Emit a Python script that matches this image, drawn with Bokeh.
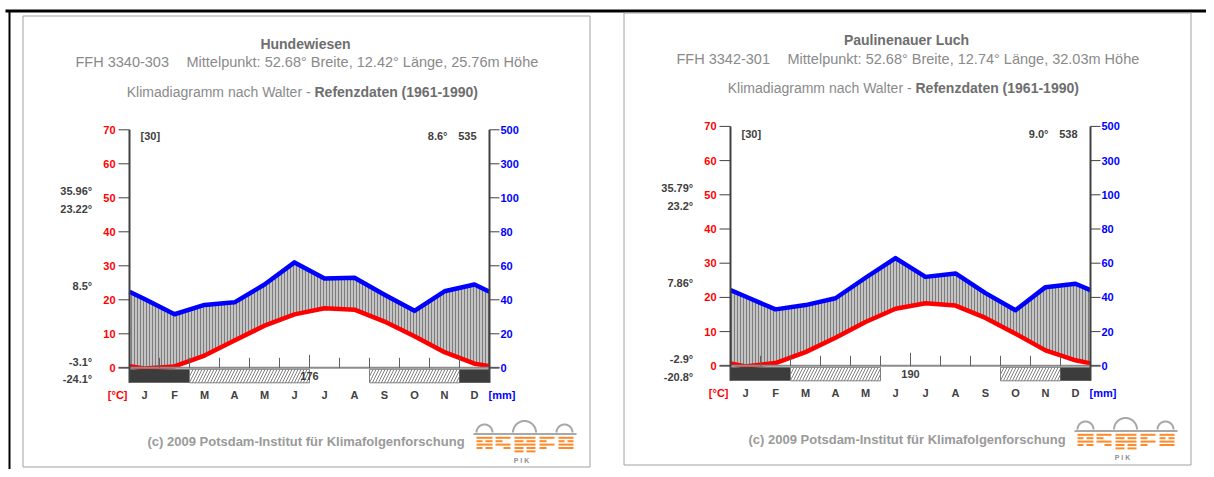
import numpy as np
from bokeh.plotting import figure
from bokeh.models import Range1d
from bokeh.embed import file_html
from bokeh.resources import INLINE
from bokeh.core.properties import value

# ---------------- data ----------------
months = ["J", "F", "M", "A", "M", "J", "J", "A", "S", "O", "N", "D"]
temp_ticks = [0, 10, 20, 30, 40, 50, 60, 70]
prec_ticks = [0, 20, 40, 60, 80, 100, 300, 500]

name1 = "Hundewiesen"
ffh1 = "FFH 3340-303"
meta1 = "Mittelpunkt: 52.68° Breite, 12.42° Länge, 25.76m Höhe"
temp1 = [-0.2, 0.4, 3.6, 8.0, 12.4, 15.7, 17.5, 17.1, 13.6, 9.3, 4.6, 1.2]
prec1 = [40.5, 31.5, 37, 38.5, 49, 62, 52.5, 53, 43, 33.5, 45, 49]
frost1 = ["frost", "frost", "hatch", "hatch", "hatch", "hatch", "", "", "hatch", "hatch", "hatch", "frost"]
side1 = ["35.96°", "23.22°", "8.5°", "-3.1°", "-24.1°"]
years1, mean1, annual1, free1 = "[30]", "8.6°", "535", "176"

name2 = "Paulinenauer Luch"
ffh2 = "FFH 3342-301"
meta2 = "Mittelpunkt: 52.68° Breite, 12.74° Länge, 32.03m Höhe"
temp2 = [-0.2, 0.8, 4.0, 8.2, 12.8, 16.7, 18.3, 17.6, 14.0, 9.4, 4.5, 1.6]
prec2 = [40.5, 33, 35.5, 39.5, 51.5, 63, 52, 54, 42.5, 32.5, 46, 48]
frost2 = ["frost", "frost", "hatch", "hatch", "hatch", "", "", "", "", "hatch", "hatch", "frost"]
side2 = ["35.79°", "23.2°", "7.86°", "-2.9°", "-20.8°"]
years2, mean2, annual2, free2 = "[30]", "9.0°", "538", "190"

subtitle_a = "Klimadiagramm nach Walter - "
subtitle_b = "Refenzdaten (1961-1990)"
copyright = "(c) 2009 Potsdam-Institut für Klimafolgenforschung"

# ---------------- layout ----------------
W, H = 1206, 469
FONT = value("Liberation Sans")
p = figure(width=W, height=H, x_range=Range1d(0, W), y_range=Range1d(H, 0),
           x_axis_type=None, y_axis_type=None, output_backend="svg",
           toolbar_location=None, min_border=0)
p.grid.visible = False
p.outline_line_color = None
p.background_fill_color = "white"
p.border_fill_color = "white"

MPX = 30.0  # pixels per month
charts = [
    dict(px0=129, py0=367.3, sy=3.4, dx=0, dy=0, name=name1, ffh=ffh1, meta=meta1, temp=temp1,
         prec=prec1, frost=frost1, side=side1, years=years1, mean=mean1, annual=annual1, free=free1),
    dict(px0=730, py0=365.3, sy=3.42, dx=601, dy=-3, name=name2, ffh=ffh2, meta=meta2, temp=temp2,
         prec=prec2, frost=frost2, side=side2, years=years2, mean=mean2, annual=annual2, free=free2),
]

ex, ey = {}, {}
for k, c in enumerate(charts):
    ex[f"x{k}"] = Range1d((0 - c["px0"]) / MPX, (W - c["px0"]) / MPX)
    ey[f"y{k}"] = Range1d((c["py0"] - H) / c["sy"], c["py0"] / c["sy"])
p.extra_x_ranges = ex
p.extra_y_ranges = ey


def prec_to_t(v):
    return v / 2.0 if v <= 100 else 50 + (v - 100) / 20.0


def txt(x, y, t, size="11px", color="#404040", style="bold", align="left", **kw):
    p.text(x=x, y=y, text=t, text_font=FONT, text_font_size=size, text_font_style=style,
           text_color=color, text_align=align, text_baseline="middle", **kw)


# black page lines
p.line([5, W], [10.5, 10.5], line_color="black", line_width=3)
p.line([9, 9], [10, H], line_color="black", line_width=2)

for k, c in enumerate(charts):
    dx, dy = c["dx"], c["dy"]
    kw = dict(x_range_name=f"x{k}", y_range_name=f"y{k}")
    sy = c["sy"]
    pm = lambda px: px / MPX      # pixel length -> months
    pt = lambda px: px / sy       # pixel length -> degrees

    # panel box
    top = 15.5 if k == 0 else 12.5
    bot = 466.5 if k == 0 else 464.5
    p.quad(left=[22.5 + dx], right=[589.5 + dx], top=[top], bottom=[bot],
           fill_color=None, line_color="#a0a0a0", line_width=1)

    # titles
    tdy = 0 if k == 0 else -4
    txt([305 + dx], [43 + tdy], [c["name"]], size="14px", color="#6e6e6e", align="center")
    txt([75 + dx], [61 + tdy + (1 if k else 0)], [c["ffh"]], size="14.5px", color="#8a8a8a", style="normal")
    txt([186 + dx], [61 + tdy + (1 if k else 0)], [c["meta"]], size="14.5px", color="#8a8a8a", style="normal")
    txt([314 + dx], [89 + tdy + 2], [subtitle_a], size="14px", color="#8a8a8a", style="normal", align="right")
    txt([314 + dx], [89 + tdy + 2], [subtitle_b], size="14px", color="#6e6e6e", style="bold")

    # data
    temp, prec = c["temp"], c["prec"]
    xs = [0] + [i + 0.5 for i in range(12)] + [12]
    te = (temp[0] + temp[-1]) / 2.0
    tt = [te] + list(temp) + [te]
    ptv = [prec_to_t(v) for v in prec]
    pe = (ptv[0] + ptv[-1]) / 2.0
    pp = [pe] + ptv + [pe]
    p.varea(x=xs, y1=tt, y2=pp, fill_color="#c4c4c4", hatch_pattern="|",
            hatch_color="#7c7c7c", hatch_scale=3, hatch_weight=1, **kw)
    p.line(xs, pp, line_color="#0000ff", line_width=4.5, line_join="round", **kw)
    p.line(xs, tt, line_color="#ff0000", line_width=4.5, line_join="round", **kw)

    # baseline & month ticks
    p.line([-pm(11), 12 + pm(10)], [0, 0], line_color="#8c8c8c", line_width=2, **kw)
    bx = list(range(1, 12))
    p.segment(x0=bx, y0=[0] * 11, x1=bx, y1=[pt(13) if b == 6 else pt(10) for b in bx],
              line_color="#606060", line_width=1, **kw)

    # frost bars
    fr = c["frost"]
    i = 0
    while i < 12:
        j = i
        while j < 12 and fr[j] == fr[i]:
            j += 1
        if fr[i] == "frost":
            p.quad(left=[i], right=[j], top=[-pt(1.5)], bottom=[-pt(15)],
                   fill_color="#3c3c3c", line_color=None, **kw)
        elif fr[i] == "hatch":
            p.quad(left=[i], right=[j], top=[-pt(1.5)], bottom=[-pt(15)],
                   fill_color="white", hatch_pattern="/", hatch_color="#808080",
                   hatch_scale=6, hatch_weight=1, line_color="#808080", line_width=1, **kw)
        i = j
    txt([6], [-pt(8.5)], [c["free"]], color="#404040", align="center", **kw)

    # axes
    p.line([0, 0], [-pt(15), 70], line_color="#404040", line_width=2, **kw)
    p.line([12, 12], [-pt(15), 70], line_color="#404040", line_width=2, **kw)
    p.segment(x0=[-pm(11)] * len(temp_ticks), y0=temp_ticks, x1=[0] * len(temp_ticks),
              y1=temp_ticks, line_color="#404040", line_width=1, **kw)
    ptk = [prec_to_t(v) for v in prec_ticks]
    p.segment(x0=[12] * len(ptk), y0=ptk, x1=[12 + pm(10)] * len(ptk), y1=ptk,
              line_color="#404040", line_width=1, **kw)
    txt([-pm(14)] * len(temp_ticks), temp_ticks, [str(v) for v in temp_ticks],
        color="#ff0000", align="right", **kw)
    txt([12 + pm(11)] * len(ptk), ptk, [str(v) for v in prec_ticks],
        color="#0000ff", align="left", **kw)

    # month labels & units
    ym = -pt(26.7)
    txt([i + 0.5 for i in range(12)], [ym] * 12, months, color="#404040", align="center", **kw)
    txt([-pm(2)], [ym], ["[°C]"], color="#ff0000", align="right", **kw)
    txt([12 - pm(1)], [ym], ["[mm]"], color="#0000ff", align="left", **kw)

    # header numbers
    yh = pt(232)
    txt([pm(11)], [yh], [c["years"]], **kw)
    txt([pm(318)], [yh], [c["mean"]], align="right", **kw)
    txt([pm(347)], [yh], [c["annual"]], align="right", **kw)

    # side annotations
    side_pos = [52.0, 46.8, 24.2, 1.85, -3.3]
    txt([-pm(37.3)] * 5, side_pos, c["side"], align="right", **kw)

    # copyright
    txt([147 + dx], [440.7 + (dy + 1.5 if k else 0)], [copyright], size="13px", color="#9a9a9a")

    # PIK logo
    lx, ly = 473 + dx, 415 + dy
    for cx, r in [(11, 8), (51, 11.5), (91, 8)]:
        a = np.linspace(0, np.pi, 40)
        p.line(lx + cx + r * np.cos(a), ly + 17 - r * np.sin(a), line_color="#a8a8a8", line_width=2)
    p.line([lx, lx + 103], [ly + 18.5, ly + 18.5], line_color="#a8a8a8", line_width=2)
    rows = [
        [(3, 19), (22, 37), (41, 62), (66, 81), (85, 100)],
        [(3, 9), (12, 19), (22, 29), (41, 50), (53, 62), (66, 73), (85, 91), (94, 100)],
        [(3, 19), (22, 37), (41, 62), (66, 81), (85, 100)],
        [(3, 9), (12, 19), (30, 37), (41, 50), (53, 62), (66, 73), (85, 100)],
        [(41, 50), (53, 62)],
    ]
    for ri, segs in enumerate(rows):
        yy = ly + 22.3 + ri * 3.4
        p.segment(x0=[lx + a for a, b in segs], y0=[yy] * len(segs),
                  x1=[lx + b for a, b in segs], y1=[yy] * len(segs),
                  line_color="#ff8a2a", line_width=2)
    txt([lx + 52], [ly + 45], ["P   I   K"], size="7px", color="#909090", align="center")

open("out.html", "w").write(file_html(p, INLINE))
